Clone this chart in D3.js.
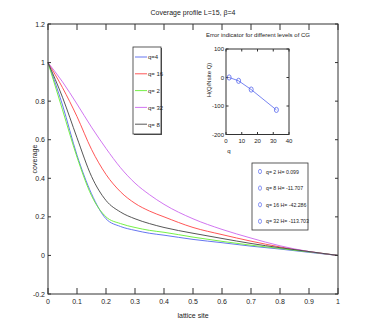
<!DOCTYPE html>
<html>
<head>
<meta charset="utf-8">
<script src="https://cdn.jsdelivr.net/npm/d3@7"></script>
<style>
  body { margin: 0; background: #fff; }
  text { font-family: "Liberation Sans Narrow", "Liberation Sans", Arial, sans-serif; fill: #222; }
</style>
</head>
<body>
<div id="chart"></div>
<script>
// lattice positions where the curves were read
const sites = [0, 0.05, 0.1, 0.15, 0.2, 0.25, 0.3, 0.35, 0.4, 0.5, 0.6, 0.7, 0.8, 0.9, 1.0];
const covQ4  = [1, 0.78, 0.52, 0.32, 0.19, 0.15, 0.13, 0.115, 0.105, 0.083, 0.066, 0.048, 0.033, 0.016, 0];
const covQ16 = [1, 0.87, 0.72, 0.55, 0.42, 0.33, 0.27, 0.23, 0.20, 0.145, 0.108, 0.074, 0.044, 0.02, 0];
const covQ2  = [1, 0.755, 0.51, 0.31, 0.20, 0.165, 0.145, 0.13, 0.12, 0.095, 0.073, 0.053, 0.036, 0.018, 0];
const covQ32 = [1, 0.90, 0.785, 0.665, 0.555, 0.455, 0.375, 0.315, 0.265, 0.19, 0.135, 0.09, 0.05, 0.02, 0];
const covQ8  = [1, 0.82, 0.61, 0.41, 0.285, 0.225, 0.19, 0.165, 0.145, 0.115, 0.088, 0.062, 0.04, 0.02, 0];

const seriesNames = ["q=4", "q= 16", "q= 2", "q= 32", "q= 8"];
const seriesColors = ["#5566ee", "#ff4444", "#66ee33", "#cc66ee", "#444444"];
const seriesValues = [covQ4, covQ16, covQ2, covQ32, covQ8];

const xTicks = [0, 0.1, 0.2, 0.3, 0.4, 0.5, 0.6, 0.7, 0.8, 0.9, 1];
const yTicks = [-0.2, 0, 0.2, 0.4, 0.6, 0.8, 1, 1.2];

// inset: error indicator
const qLevels = [2, 8, 16, 32];
const hValues = [0.099, -11.707, -42.286, -113.703];
const hLabels = ["q= 2  H= 0.099", "q= 8  H= -11.707", "q= 16  H= -42.286", "q= 32  H= -113.703"];
const insetXTicks = [0, 10, 20, 30, 40];
const insetYTicks = [-200, -100, 0, 100];

const W = 374, H = 332;
const svg = d3.select("#chart").append("svg").attr("width", W).attr("height", H);

const x = d3.scaleLinear().domain([0, 1]).range([48, 338]);
const y = d3.scaleLinear().domain([-0.2, 1.2]).range([294, 24]);

const fmt = d => d === 0 ? "0" : String(d);

// curves
const line = d3.line().x(d => x(d[0])).y(d => y(d[1])).curve(d3.curveMonotoneX);
seriesValues.forEach((vals, i) => {
  svg.append("path")
    .datum(sites.map((s, k) => [s, vals[k]]))
    .attr("d", line)
    .attr("fill", "none")
    .attr("stroke", seriesColors[i])
    .attr("stroke-width", 0.9);
});

// frame + ticks (inside, matlab style)
function frame(g, xs, ys, xt, yt, xLen, yLen) {
  const [x0, x1] = xs.range(), [y0, y1] = ys.range();
  g.append("rect").attr("x", x0).attr("y", y1).attr("width", x1 - x0).attr("height", y0 - y1)
    .attr("fill", "none").attr("stroke", "#333").attr("stroke-width", 1);
  xt.forEach(t => {
    const px = xs(t);
    g.append("line").attr("x1", px).attr("x2", px).attr("y1", y0).attr("y2", y0 - xLen).attr("stroke", "#333");
    g.append("line").attr("x1", px).attr("x2", px).attr("y1", y1).attr("y2", y1 + xLen).attr("stroke", "#333");
  });
  yt.forEach(t => {
    const py = ys(t);
    g.append("line").attr("x1", x0).attr("x2", x0 + yLen).attr("y1", py).attr("y2", py).attr("stroke", "#333");
    g.append("line").attr("x1", x1).attr("x2", x1 - yLen).attr("y1", py).attr("y2", py).attr("stroke", "#333");
  });
}
frame(svg, x, y, xTicks, yTicks, 6, 3);

svg.append("g").selectAll("text").data(xTicks).join("text")
  .attr("x", d => x(d)).attr("y", 304).attr("text-anchor", "middle")
  .attr("font-size", 7).text(fmt);
svg.append("g").selectAll("text").data(yTicks).join("text")
  .attr("x", 45).attr("y", d => y(d) + 2.5).attr("text-anchor", "end")
  .attr("font-size", 7).text(fmt);

svg.append("text").attr("x", 193).attr("y", 15).attr("text-anchor", "middle")
  .attr("font-size", 7).text("Coverage profile L=15, β=4");
svg.append("text").attr("x", 193).attr("y", 318).attr("text-anchor", "middle")
  .attr("font-size", 7).text("lattice site");
svg.append("text").attr("transform", "translate(37,159) rotate(-90)").attr("text-anchor", "middle")
  .attr("font-size", 7).text("coverage");

// legend 1
const lg = svg.append("g");
lg.append("rect").attr("x", 134).attr("y", 48).attr("width", 28).attr("height", 87).attr("fill", "#555");
lg.append("rect").attr("x", 133).attr("y", 47).attr("width", 28).attr("height", 87)
  .attr("fill", "#fff").attr("stroke", "#333").attr("stroke-width", 0.8);
seriesNames.forEach((n, i) => {
  const ly = 57 + i * 16.8;
  lg.append("line").attr("x1", 135).attr("x2", 147).attr("y1", ly).attr("y2", ly)
    .attr("stroke", seriesColors[i]).attr("stroke-width", 0.9);
  lg.append("text").attr("x", 148).attr("y", ly + 2.3).attr("font-size", 6).text(n);
});

// inset
const ix = d3.scaleLinear().domain([0, 40]).range([226, 289]);
const iy = d3.scaleLinear().domain([-200, 100]).range([134.5, 49]);
const inset = svg.append("g");
inset.append("rect").attr("x", 226).attr("y", 49).attr("width", 63).attr("height", 85.5).attr("fill", "#fff");
frame(inset, ix, iy, insetXTicks, insetYTicks, 2.5, 2.5);
inset.append("path")
  .datum(qLevels.map((q, k) => [q, hValues[k]]))
  .attr("d", d3.line().x(d => ix(d[0])).y(d => iy(d[1])))
  .attr("fill", "none").attr("stroke", "#5566ee").attr("stroke-width", 0.8);
inset.selectAll("ellipse").data(qLevels).join("ellipse")
  .attr("cx", d => ix(d)).attr("cy", (d, k) => iy(hValues[k]))
  .attr("rx", 2).attr("ry", 2.6).attr("fill", "none").attr("stroke", "#5566ee").attr("stroke-width", 0.8);
inset.append("g").selectAll("text").data(insetXTicks).join("text")
  .attr("x", d => ix(d)).attr("y", 143).attr("text-anchor", "middle").attr("font-size", 6).text(fmt);
inset.append("g").selectAll("text").data(insetYTicks).join("text")
  .attr("x", 224).attr("y", d => iy(d) + 2).attr("text-anchor", "end").attr("font-size", 6).text(fmt);
inset.append("text").attr("x", 258).attr("y", 37).attr("text-anchor", "middle")
  .attr("font-size", 6).text("Error indicator for different levels of CG");
inset.append("text").attr("x", 229).attr("y", 153).attr("text-anchor", "middle")
  .attr("font-size", 6).text("q");
inset.append("text").attr("transform", "translate(211,80) rotate(-90)").attr("text-anchor", "middle")
  .attr("font-size", 6).text("H(Q/Nsite Q)");

// legend 2
const l2 = svg.append("g");
l2.append("rect").attr("x", 252).attr("y", 163).attr("width", 56).attr("height", 67)
  .attr("fill", "#fff").attr("stroke", "#333").attr("stroke-width", 0.8);
hLabels.forEach((t, i) => {
  const ly = 171.5 + i * 16.6;
  l2.append("ellipse").attr("cx", 260).attr("cy", ly).attr("rx", 1.5).attr("ry", 2.2)
    .attr("fill", "none").attr("stroke", "#5566ee").attr("stroke-width", 0.7);
  l2.append("text").attr("x", 266).attr("y", ly + 2).attr("font-size", 5.2).text(t);
});
</script>
</body>
</html>
